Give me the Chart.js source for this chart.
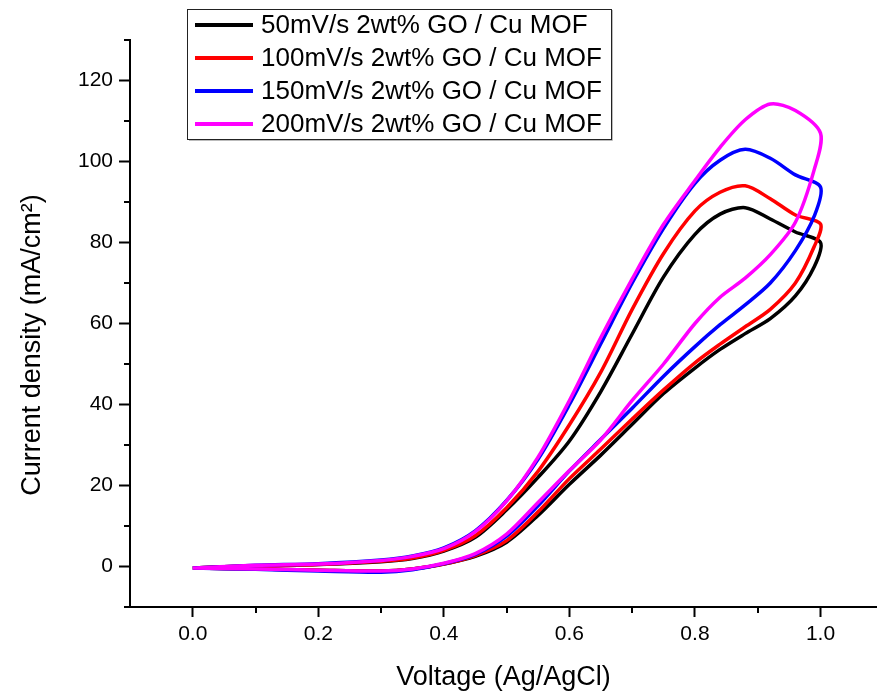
<!DOCTYPE html>
<html>
<head>
<meta charset="utf-8">
<script src="https://cdn.jsdelivr.net/npm/chart.js@4.4.1/dist/chart.umd.min.js"></script>
<style>
  body { margin: 0; background: #fff; }
  #wrap { width: 877px; height: 692px; }
</style>
</head>
<body>
<div id="wrap"><canvas id="cv" width="877" height="692"></canvas></div>
<script>
// ========== dados ==========
const labels = [
  "50mV/s 2wt% GO / Cu MOF",
  "100mV/s 2wt% GO / Cu MOF",
  "150mV/s 2wt% GO / Cu MOF",
  "200mV/s 2wt% GO / Cu MOF",
];
const cores = ["#000000", "#ff0000", "#0000ff", "#ff00ff"];

// voltage (V vs Ag/AgCl) for the forward and the return scan
const voltIda = [0, 0.1, 0.2, 0.3, 0.35, 0.4, 0.45, 0.5, 0.55, 0.6, 0.65, 0.7, 0.75, 0.8, 0.84, 0.88, 0.92, 0.96, 1.0];
const voltVolta = [0.99, 0.96, 0.92, 0.88, 0.84, 0.8, 0.75, 0.7, 0.65, 0.6, 0.55, 0.5, 0.45, 0.4, 0.35, 0.3, 0.2, 0.1, 0];

// current density (mA/cm2)
const ida50 = [-0.4, 0.2, 0.5, 1.2, 2.0, 3.8, 7.2, 14, 22, 31, 43.2, 57.4, 71.5, 82, 87, 88.6, 85.8, 82.6, 80];
const volta50 = [74, 66.8, 61.2, 57.5, 53.6, 49, 42.7, 35.1, 27.5, 20.3, 12.6, 6, 2.5, 0.6, -0.6, -1.1, -0.9, -0.6, -0.4];

const ida100 = [-0.4, 0.2, 0.5, 1.3, 2.1, 4, 7.6, 14.5, 23.5, 35, 48, 63.5, 77.3, 87.8, 92.4, 94, 90.8, 86.8, 84.6];
const volta100 = [79, 70, 63.5, 59.2, 54.9, 50.3, 43.6, 36.4, 29, 21.7, 13.5, 6.4, 2.7, 0.6, -0.6, -1.1, -0.9, -0.6, -0.4];

const ida150 = [-0.4, 0.3, 0.7, 1.6, 2.6, 4.6, 8.8, 16.3, 26.5, 40, 55, 70, 83.5, 94.6, 100.3, 103, 100.8, 96.7, 93.7];
const volta150 = [86.5, 78, 70, 64.6, 59.7, 54.3, 47, 39.1, 31.4, 23.6, 15, 7.5, 3, 0.7, -0.8, -1.4, -1.1, -0.7, -0.4];

const ida200 = [-0.4, 0.3, 0.6, 1.5, 2.5, 4.4, 8.6, 16.2, 27, 41, 56.5, 71, 84.5, 95.3, 103.5, 110.3, 114.2, 112.6, 107];
const volta200 = [98, 85, 77, 71.2, 66.5, 60, 50, 41, 31.3, 23.7, 15.8, 8, 3.2, 0.8, -0.6, -1.1, -0.9, -0.6, -0.4];

const ticksX = [0, 0.2, 0.4, 0.6, 0.8, 1.0];
const ticksXMenor = [0.1, 0.3, 0.5, 0.7, 0.9];
const ticksY = [0, 20, 40, 60, 80, 100, 120];
const ticksYMenor = [-10, 10, 30, 50, 70, 90, 110, 130];

const tituloX = "Voltage (Ag/AgCl)";
const tituloY = "Current density (mA/cm\u00b2)";

// ========== montagem ==========
function montarCiclo(ida, volta) {
  const pts = voltIda.map((v, i) => ({ x: v, y: ida[i] }));
  return pts.concat(voltVolta.map((v, i) => ({ x: v, y: volta[i] })));
}

const series = [
  montarCiclo(ida50, volta50),
  montarCiclo(ida100, volta100),
  montarCiclo(ida150, volta150),
  montarCiclo(ida200, volta200),
];

const FONTE = "'Liberation Sans', Arial, sans-serif";
Chart.defaults.font.family = FONTE;
Chart.defaults.color = "#000";

// minor ticks, y title and the boxed legend
const extras = {
  id: "extras",
  afterDraw(chart) {
    const ctx = chart.ctx;
    const area = chart.chartArea;
    const sx = chart.scales.x;
    const sy = chart.scales.y;
    ctx.save();
    ctx.strokeStyle = "#000";
    ctx.lineWidth = 2;
    ctx.beginPath();
    ticksXMenor.forEach((v) => {
      const px = Math.round(sx.getPixelForValue(v));
      ctx.moveTo(px, area.bottom);
      ctx.lineTo(px, area.bottom + 6);
    });
    ticksYMenor.forEach((v) => {
      const py = Math.round(sy.getPixelForValue(v));
      ctx.moveTo(area.left, py);
      ctx.lineTo(area.left - 6, py);
    });
    ctx.stroke();

    // y title
    ctx.fillStyle = "#000";
    ctx.font = "27px " + FONTE;
    ctx.textAlign = "center";
    ctx.textBaseline = "alphabetic";
    ctx.translate(40, 345);
    ctx.rotate(-Math.PI / 2);
    ctx.fillText(tituloY, 0, 0);
    ctx.restore();

    // legend
    ctx.save();
    ctx.fillStyle = "#fff";
    ctx.fillRect(188, 9, 424, 130);
    ctx.strokeStyle = "#bbb";
    ctx.lineWidth = 1;
    ctx.beginPath();
    ctx.moveTo(189, 140.5);
    ctx.lineTo(612.5, 140.5);
    ctx.lineTo(612.5, 10);
    ctx.stroke();
    ctx.strokeStyle = "#222";
    ctx.strokeRect(187.5, 9.5, 424, 130);
    ctx.font = "26px " + FONTE;
    ctx.textAlign = "left";
    ctx.textBaseline = "middle";
    chart.data.datasets.forEach((ds, i) => {
      const y = 25 + i * 33;
      ctx.strokeStyle = ds.borderColor;
      ctx.lineWidth = 4;
      ctx.beginPath();
      ctx.moveTo(195, y);
      ctx.lineTo(253, y);
      ctx.stroke();
      ctx.fillStyle = "#000";
      ctx.fillText(ds.label, 261, y + 1);
    });
    ctx.restore();
  },
};

const ctx = document.getElementById("cv").getContext("2d");
let grafico = new Chart(ctx, {
  type: "line",
  data: {
    datasets: series.map((pts, i) => ({
      label: labels[i],
      data: pts,
      borderColor: cores[i],
      backgroundColor: cores[i],
      borderWidth: 3.5,
      pointRadius: 0,
      tension: 0.3,
      fill: false,
      order: 3 - i,
    })),
  },
  options: {
    responsive: false,
    animation: false,
    layout: { padding: { top: 40, right: 0, left: 0, bottom: 0 } },
    plugins: {
      legend: { display: false },
      tooltip: { enabled: false },
    },
    scales: {
      x: {
        type: "linear",
        min: -0.1,
        max: 1.09,
        afterBuildTicks: (s) => { s.ticks = ticksX.map((v) => ({ value: v })); },
        afterFit: (s) => { s.height = 85; },
        ticks: {
          font: { size: 21 },
          padding: 5,
          maxRotation: 0,
          callback: (v) => Number(v).toFixed(1),
        },
        grid: { drawOnChartArea: false, tickLength: 10, tickWidth: 2, tickColor: "#000" },
        border: { color: "#000", width: 2 },
        title: { display: true, text: tituloX, font: { size: 27 }, padding: { top: 0, bottom: -2 } },
      },
      y: {
        min: -10,
        max: 130,
        afterBuildTicks: (s) => { s.ticks = ticksY.map((v) => ({ value: v })); },
        afterFit: (s) => { s.width = 130; },
        ticks: { font: { size: 21 }, padding: 6 },
        grid: { drawOnChartArea: false, tickLength: 11, tickWidth: 2, tickColor: "#000" },
        border: { color: "#000", width: 2 },
      },
    },
  },
  plugins: [extras],
});
</script>
</body>
</html>
